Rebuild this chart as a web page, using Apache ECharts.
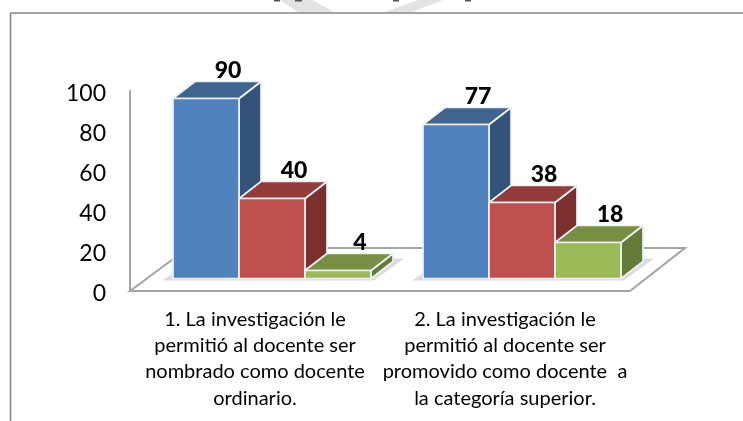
<!DOCTYPE html>
<html><head><meta charset="utf-8">
<style>html,body{margin:0;padding:0;background:#fff}#c{width:743px;height:421px}</style>
<script src="https://cdn.jsdelivr.net/npm/echarts@6/dist/echarts.min.js"></script>
</head><body><div id="c"></div>
<script>
const categories = [
  "1. La investigación le\npermitió al docente ser\nnombrado como docente\nordinario.",
  "2. La investigación le\npermitió al docente ser\npromovido como docente  a\nla categoría superior."
];
const azulValues = [90, 77];
const rojoValues = [40, 38];
const verdeValues = [4, 18];
const yTicks = {min: 0, max: 100, interval: 20};

const FONT = 'Lato, "Open Sans", sans-serif';
const BAR_W = 66, DX = 22, DY = -17, BASE_UP = 12.5, GROUP_SHIFT = 17;
const FLOOR_DX = 55, FLOOR_DY = -43;

function barSeries(name, values, idx, front, top, side) {
  return {
    type: 'custom', name, z: 3 + idx,
    data: values.map((v, i) => [i, v]),
    encode: {x: 0, y: 1},
    clip: false,
    renderItem(params, api) {
      const cat = api.value(0), val = api.value(1);
      const c0 = api.coord([cat, 0]), c1 = api.coord([cat, val]);
      const xL = c0[0] + GROUP_SHIFT + (idx - 1.5) * BAR_W;
      const xR = xL + BAR_W;
      const yB = c0[1] - BASE_UP, yT = c1[1] - BASE_UP;
      const st = {stroke: '#eef2f5', lineWidth: 1.7, lineJoin: 'round'};
      const poly = (points, fill) => ({type: 'polygon', shape: {points}, style: {fill, ...st}});
      return {type: 'group', children: [
        poly([[xR, yT], [xR + DX, yT + DY], [xR + DX, yB + DY], [xR, yB]], side),
        poly([[xL, yT], [xL + DX, yT + DY], [xR + DX, yT + DY], [xR, yT]], top),
        poly([[xL, yT], [xR, yT], [xR, yB], [xL, yB]], front),
        {type: 'text', z2: 50, style: {
          text: String(val), x: (xL + xR) / 2 + 22, y: yT - 28,
          align: 'center', verticalAlign: 'middle',
          font: '900 23px ' + FONT, fill: '#000'
        }}
      ]};
    }
  };
}

const floorSeries = {
  type: 'custom', z: 1, silent: true, clip: false,
  data: [[0, 0]], encode: {x: 0, y: 1},
  renderItem(params, api) {
    const g = params.coordSys, x0 = g.x, x1 = g.x + g.width, y = g.y + g.height;
    return {type: 'polygon', shape: {points: [
      [x0, y], [x0 + FLOOR_DX + 3, y + FLOOR_DY], [x1 + FLOOR_DX, y + FLOOR_DY], [x1, y]
    ]}, style: {fill: '#fff', stroke: '#a3a3a3', lineWidth: 2}};
  }
};

const shadowSeries = {
  type: 'custom', z: 2, silent: true, clip: false,
  data: categories.map((c, i) => [i, 0]), encode: {x: 0, y: 1},
  renderItem(params, api) {
    const c0 = api.coord([api.value(0), 0]);
    const l = c0[0] + GROUP_SHIFT - 1.5 * BAR_W, r = c0[0] + GROUP_SHIFT + 1.5 * BAR_W, yB = c0[1] - BASE_UP;
    return {type: 'polygon', shape: {points: [
      [l - 11, yB + 2], [l, yB - 5], [r + 24, yB - 20], [r + 33, yB - 20], [r + 3, yB + 2]
    ]}, style: {fill: '#dcdcdc'}};
  }
};

const chart = echarts.init(document.getElementById('c'), null, {renderer: 'canvas'});
chart.setOption({
  animation: false,
  backgroundColor: '#fff',
  grid: {left: 130, top: 91, width: 500, height: 200, containLabel: false},
  xAxis: {
    type: 'category', data: categories, z: 1,
    axisLine: {show: false}, axisTick: {show: false},
    axisLabel: {color: '#000', fontFamily: FONT, fontSize: 20, lineHeight: 26.3, margin: 15, interval: 0, align: 'center', verticalAlign: 'top'}
  },
  yAxis: {
    type: 'value', min: yTicks.min, max: yTicks.max, interval: yTicks.interval, z: 0,
    splitLine: {show: false}, axisTick: {show: false},
    axisLine: {show: true, lineStyle: {color: '#a3a3a3', width: 2}},
    axisLabel: {color: '#000', fontFamily: FONT, fontSize: 23, margin: 24, verticalAlign: 'top', lineHeight: 6}
  },
  graphic: [
    {type: 'line', silent: true, shape: {x1: 10.5, y1: 13, x2: 743, y2: 13}, style: {stroke: '#858585', lineWidth: 1.6}},
    {type: 'line', silent: true, shape: {x1: 10.5, y1: 13, x2: 10.5, y2: 421}, style: {stroke: '#858585', lineWidth: 1.6}},
    {type: 'polygon', silent: true, shape: {points: [[280, 0], [312, 0], [334, 12], [298, 12]]}, style: {fill: '#e3e3e3'}},
    {type: 'polygon', silent: true, shape: {points: [[418, 0], [443, 0], [412, 12], [385, 12]]}, style: {fill: '#e3e3e3'}},
    {type: 'rect', silent: true, shape: {x: 274, y: 0, width: 6, height: 1.5}, style: {fill: '#555'}},
    {type: 'rect', silent: true, shape: {x: 295, y: 0, width: 7, height: 1.5}, style: {fill: '#555'}},
    {type: 'rect', silent: true, shape: {x: 393, y: 0, width: 6, height: 1.5}, style: {fill: '#555'}},
    {type: 'rect', silent: true, shape: {x: 465, y: 0, width: 6, height: 1.5}, style: {fill: '#555'}}
  ],
  series: [
    floorSeries,
    shadowSeries,
    barSeries('A', azulValues, 0, '#4f81bd', '#3f648f', '#335378'),
    barSeries('B', rojoValues, 1, '#c0504d', '#933c3a', '#7c302e'),
    barSeries('C', verdeValues, 2, '#9bbb59', '#768f43', '#647a38')
  ]
});
</script></body></html>
